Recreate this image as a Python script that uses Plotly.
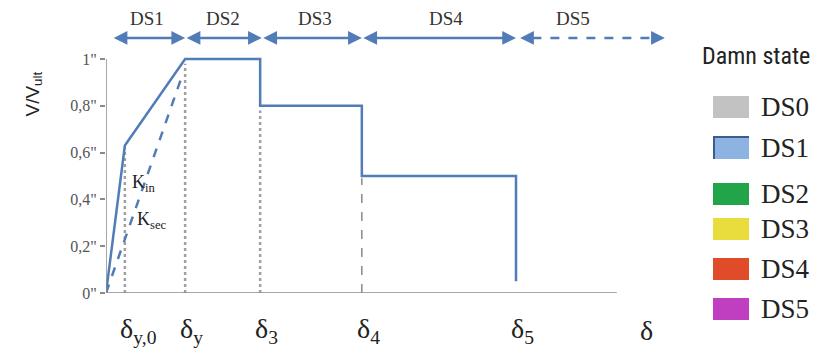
import plotly.graph_objects as go

# ---- data ----
# displacement positions (arbitrary units, delta_5 = 1)
delta_names = ["δ<sub>y,0</sub>", "δ<sub>y</sub>", "δ<sub>3</sub>", "δ<sub>4</sub>", "δ<sub>5</sub>", "δ"]
delta_pos = [0.046, 0.193, 0.376, 0.624, 1.0, 1.315]

# capacity curve (V/V_ult vs delta)
curve_x = [0.0, 0.046, 0.193, 0.376, 0.376, 0.624, 0.624, 1.0, 1.0]
curve_y = [0.0, 0.63, 1.0, 1.0, 0.8, 0.8, 0.5, 0.5, 0.05]

# secant stiffness line
sec_x = [0.0, 0.186]
sec_y = [0.0, 0.93]

# vertical guide heights
guide_x = [0.046, 0.193, 0.376, 0.624]
guide_top = [0.62, 0.98, 0.78, 0.49]

y_ticks = [0, 0.2, 0.4, 0.6, 0.8, 1.0]
y_tick_labels = ['0"', '0,2"', '0,4"', '0,6"', '0,8"', '1"']

# damage-state ranges along the top
ds_names = ["DS1", "DS2", "DS3", "DS4", "DS5"]
ds_start = [0.015, 0.193, 0.380, 0.624, 1.01]
ds_end = [0.193, 0.380, 0.624, 1.0, 1.363]
ds_label_x = [0.10, 0.285, 0.51, 0.83, 1.14]

legend_names = ["DS0", "DS1", "DS2", "DS3", "DS4", "DS5"]
legend_colors = ["#c2c2c2", "#8db3e2", "#22a548", "#e9dc3d", "#e04b29", "#c03fc0"]

# ---- layout helpers (reference pixel coords, page body has 8px margin) ----
OFF = 8
W, H = 836 - OFF, 358 - OFF
L = 106 - OFF
T = 10 - OFF
B = H - (293 - OFF)
R = W - (670 - OFF)
PW, PH = W - L - R, H - T - B
XMAX = PW / 410.0
YMAX = PH / 234.0

SERIF = "Liberation Serif"


def px2paper_x(px):
    return (px - 106) / PW


def py2paper_y(py):
    return (293 - py) / PH


BLUE = "#527cb7"
fig = go.Figure()

# guides
for i, (gx, gt) in enumerate(zip(guide_x, guide_top)):
    fig.add_trace(go.Scatter(
        x=[gx, gx], y=[0, gt], mode="lines",
        line=dict(color="#777777" if i == 3 else "#a0a0a0",
                  width=1.3 if i == 3 else 2.5,
                  dash="dash" if i == 3 else "dot"),
        hoverinfo="skip", showlegend=False))

# secant line
fig.add_trace(go.Scatter(x=sec_x, y=sec_y, mode="lines",
                         line=dict(color=BLUE, width=2.5, dash="dash"),
                         showlegend=False))
# main curve
fig.add_trace(go.Scatter(x=curve_x, y=curve_y, mode="lines",
                         line=dict(color=BLUE, width=2.5),
                         showlegend=False))

shapes = []
# axes lines
shapes.append(dict(type="line", xref="x", yref="y", x0=0, x1=1.246, y0=0, y1=0,
                   line=dict(color="#8a8a8a", width=1.5)))
shapes.append(dict(type="line", xref="x", yref="y", x0=0, x1=0, y0=0, y1=1,
                   line=dict(color="#8a8a8a", width=1.5)))

annotations = []
ARROW_Y = 1.09
for i, (n, s, e, lx) in enumerate(zip(ds_names, ds_start, ds_end, ds_label_x)):
    annotations.append(dict(x=lx, y=1.175, xref="x", yref="y", text=n, showarrow=False,
                            font=dict(family=SERIF, size=19, color="#333333")))
    if i < 4:
        annotations.append(dict(x=e, y=ARROW_Y, ax=s, ay=ARROW_Y, xref="x", yref="y",
                                axref="x", ayref="y", text="", showarrow=True,
                                arrowhead=2, startarrowhead=2, arrowside="end+start",
                                arrowsize=1.1, arrowwidth=2.5, arrowcolor=BLUE))
    else:
        shapes.append(dict(type="line", xref="x", yref="y", x0=s + 0.03, x1=e - 0.03,
                           y0=ARROW_Y, y1=ARROW_Y,
                           line=dict(color=BLUE, width=2.5, dash="dash")))
        annotations.append(dict(x=e, y=ARROW_Y, ax=e - 0.03, ay=ARROW_Y, xref="x", yref="y",
                                axref="x", ayref="y", text="", showarrow=True,
                                arrowhead=2, arrowsize=1.1, arrowwidth=2.5, arrowcolor=BLUE))
        annotations.append(dict(x=s, y=ARROW_Y, ax=s + 0.03, ay=ARROW_Y, xref="x", yref="y",
                                axref="x", ayref="y", text="", showarrow=True,
                                arrowhead=2, arrowsize=1.1, arrowwidth=2.5, arrowcolor=BLUE))

# delta labels
for n, p in zip(delta_names, delta_pos):
    annotations.append(dict(x=p, y=0, xref="x", yref="y", text=n, showarrow=False,
                            xanchor="left", yanchor="middle", xshift=-7, yshift=-37,
                            font=dict(family=SERIF, size=28, color="#222222")))

# stiffness labels
annotations.append(dict(x=0.058, y=0.47, xref="x", yref="y", text="K<sub>in</sub>",
                        showarrow=False, xanchor="left",
                        font=dict(family=SERIF, size=18, color="#222222")))
annotations.append(dict(x=0.071, y=0.31, xref="x", yref="y", text="K<sub>sec</sub>",
                        showarrow=False, xanchor="left",
                        font=dict(family=SERIF, size=18, color="#222222")))

# y title
annotations.append(dict(x=px2paper_x(20), y=py2paper_y(70), xref="paper", yref="paper",
                        text="V/V<sub>ult</sub>", showarrow=False, textangle=-90,
                        font=dict(family="Liberation Sans", size=19, color="#222222")))

# legend
annotations.append(dict(x=px2paper_x(700), y=py2paper_y(56), xref="paper", yref="paper",
                        text="Damn state", showarrow=False, xanchor="left", yanchor="middle",
                        font=dict(family="Roboto Condensed", size=24, color="#222222")))
leg_y = [107, 148, 194, 229, 269, 309]
for n, c, yy in zip(legend_names, legend_colors, leg_y):
    shapes.append(dict(type="rect", xref="paper", yref="paper",
                       x0=px2paper_x(713), x1=px2paper_x(749),
                       y0=py2paper_y(yy + 11), y1=py2paper_y(yy - 11),
                       fillcolor=c, line=dict(width=0)))
    if n == "DS1":
        shapes.append(dict(type="line", xref="paper", yref="paper",
                           x0=px2paper_x(714), x1=px2paper_x(714),
                           y0=py2paper_y(yy + 11), y1=py2paper_y(yy - 11),
                           line=dict(color="#3d5c8a", width=2)))
        shapes.append(dict(type="line", xref="paper", yref="paper",
                           x0=px2paper_x(713), x1=px2paper_x(749),
                           y0=py2paper_y(yy - 11), y1=py2paper_y(yy - 11),
                           line=dict(color="#3d5c8a", width=2)))
    annotations.append(dict(x=px2paper_x(759), y=py2paper_y(yy), xref="paper", yref="paper",
                            text=n, showarrow=False, xanchor="left", yanchor="middle",
                            font=dict(family=SERIF, size=27, color="#222222")))

fig.update_layout(
    width=W, height=H,
    margin=dict(l=L, r=R, t=T, b=B),
    paper_bgcolor="white", plot_bgcolor="white",
    showlegend=False,
    shapes=shapes, annotations=annotations,
    xaxis=dict(range=[0, XMAX], showgrid=False, zeroline=False, showticklabels=False,
               showline=False, fixedrange=True),
    yaxis=dict(range=[0, YMAX], showgrid=False, zeroline=False, showline=False,
               tickvals=y_ticks, ticktext=y_tick_labels, ticks="outside", ticklen=5,
               tickcolor="#8a8a8a", tickwidth=1.5,
               tickfont=dict(family=SERIF, size=16, color="#555555")),
)

fig.write_html("out.html")
